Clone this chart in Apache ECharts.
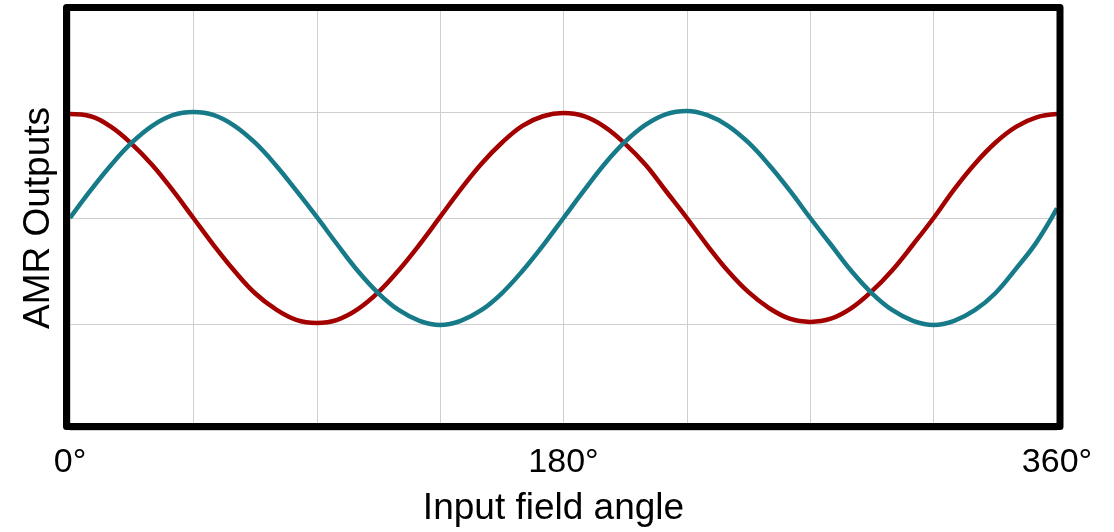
<!DOCTYPE html>
<html>
<head>
<meta charset="utf-8">
<script src="https://cdn.jsdelivr.net/npm/echarts@6/dist/echarts.min.js"></script>
<style>
  html, body { margin: 0; padding: 0; background: #fff; }
  #chart { width: 1114px; height: 532px; }
</style>
</head>
<body>
<div id="chart"></div>
<script>
// input field angle, degrees
const angles = [
  0, 7.5, 15, 22.5, 30, 37.5, 45, 52.5, 60, 67.5, 75, 82.5,
  90, 97.5, 105, 112.5, 120, 127.5, 135, 142.5, 150, 157.5, 165, 172.5,
  180, 187.5, 195, 202.5, 210, 217.5, 225, 232.5, 240, 247.5, 255, 262.5,
  270, 277.5, 285, 292.5, 300, 307.5, 315, 322.5, 330, 337.5, 345, 352.5, 360
];

// red output (cos-like)
const outRed = [
  0.98, 0.96, 0.86, 0.70, 0.50, 0.26, 0.00, -0.26, -0.50, -0.71, -0.86, -0.96,
  -0.99, -0.96, -0.86, -0.70, -0.49, -0.25, 0.01, 0.27, 0.51, 0.71, 0.87, 0.96,
  0.99, 0.96, 0.86, 0.70, 0.50, 0.25, 0.00, -0.26, -0.50, -0.70, -0.85, -0.95,
  -0.98, -0.95, -0.85, -0.69, -0.49, -0.25, 0.00, 0.27, 0.51, 0.71, 0.86, 0.95, 0.98
];

// teal output (sin-like)
const outTeal = [
  0.00, 0.26, 0.50, 0.71, 0.87, 0.97, 1.00, 0.97, 0.87, 0.71, 0.50, 0.26,
  0.01, -0.25, -0.50, -0.71, -0.87, -0.97, -1.01, -0.97, -0.87, -0.71, -0.50, -0.26,
  0.00, 0.26, 0.51, 0.72, 0.88, 0.98, 1.01, 0.97, 0.87, 0.71, 0.50, 0.26,
  0.00, -0.25, -0.50, -0.71, -0.87, -0.97, -1.01, -0.97, -0.87, -0.71, -0.48, -0.23, 0.09
];

// only these x ticks get a label
const xTickLabels = { 0: "0°", 180: "180°", 360: "360°" };

const font = "'Liberation Sans', Arial, sans-serif";
const chart = echarts.init(document.getElementById("chart"));

chart.setOption({
  animation: false,
  grid: { left: 70, right: 57, top: 6, bottom: 102 },
  xAxis: {
    type: "value",
    min: 0,
    max: 360,
    interval: 45,
    name: "Input field angle",
    nameLocation: "middle",
    nameGap: 60,
    nameTextStyle: { color: "#000", fontSize: 37, fontFamily: font, padding: [0, 20, 0, 0] },
    axisLine: { show: false },
    axisTick: { show: false },
    axisLabel: {
      color: "#000",
      fontSize: 34,
      fontFamily: font,
      margin: 16,
      formatter: v => xTickLabels[v] || ""
    },
    splitLine: { show: true, lineStyle: { color: "#cfcfcf", width: 1 } }
  },
  yAxis: {
    type: "value",
    min: -2,
    max: 2,
    interval: 1,
    name: "AMR Outputs",
    nameLocation: "middle",
    nameGap: 13,
    nameTextStyle: { color: "#000", fontSize: 37, fontFamily: font },
    axisLine: { show: false },
    axisTick: { show: false },
    axisLabel: { show: false },
    splitLine: { show: true, lineStyle: { color: "#cfcfcf", width: 1 } }
  },
  series: [
    {
      name: "red",
      type: "line",
      data: angles.map((a, i) => [a, outRed[i]]),
      showSymbol: false,
      smooth: 0.4,
      lineStyle: { color: "#a30000", width: 4.5 }
    },
    {
      name: "teal",
      type: "line",
      data: angles.map((a, i) => [a, outTeal[i]]),
      showSymbol: false,
      smooth: 0.4,
      lineStyle: { color: "#167a89", width: 4.5 }
    }
  ],
  // thick black frame round the plot
  graphic: [
    {
      type: "rect",
      z: 100,
      shape: { x: 66.5, y: 7.5, width: 993.5, height: 419 },
      style: { fill: null, stroke: "#000", lineWidth: 7, lineJoin: "round" }
    }
  ]
});
</script>
</body>
</html>
